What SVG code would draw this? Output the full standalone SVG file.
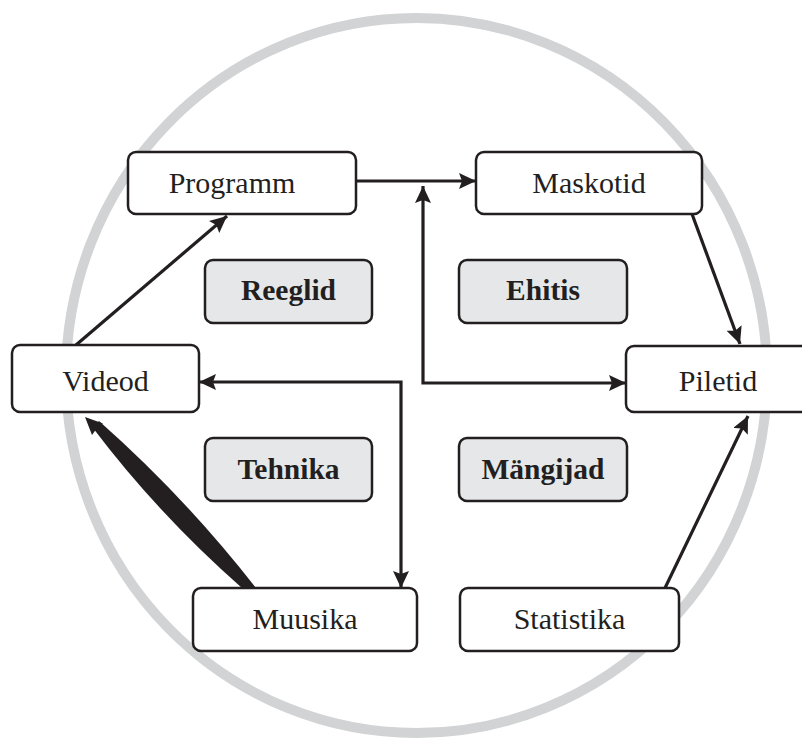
<svg xmlns="http://www.w3.org/2000/svg" width="802" height="742" viewBox="0 0 802 742">
<defs>
<marker id="ah" markerUnits="userSpaceOnUse" markerWidth="20" markerHeight="18" refX="17" refY="8" orient="auto-start-reverse" viewBox="0 0 20 18">
<path d="M0,0 L17,8 L0,16 L3,8 z" fill="#231f20"/>
</marker>
<style>
.box{fill:#ffffff;stroke:#231f20;stroke-width:2.5}
.gbox{fill:#e6e7e8;stroke:#231f20;stroke-width:2.5}
.t{font-family:"Liberation Serif","Times New Roman",serif;font-size:30px;fill:#231f20;text-anchor:middle}
.b{font-weight:bold;font-size:29.5px}
.c{fill:none;stroke:#231f20;stroke-width:3.2}
</style>
</defs>
<rect width="802" height="742" fill="#ffffff"/>
<ellipse cx="416.5" cy="375.5" rx="350.5" ry="357.5" fill="none" stroke="#d1d3d4" stroke-width="10"/>

<g id="connectors">
<line class="c" x1="356" y1="181" x2="476" y2="181" marker-end="url(#ah)"/>
<path class="c" d="M423,186 L423,383 L626,383" marker-start="url(#ah)" marker-end="url(#ah)"/>
<path class="c" d="M199,382 L401,382 L401,588" marker-start="url(#ah)" marker-end="url(#ah)"/>
<line class="c" x1="76" y1="345" x2="227" y2="216" marker-end="url(#ah)"/>
<line class="c" x1="692" y1="214" x2="740" y2="344" marker-end="url(#ah)"/>
<line class="c" x1="665" y1="588" x2="748" y2="416" marker-end="url(#ah)"/>
<path d="M242,588 Q158,514 93,428 L99,421 Q185,497 256,588 Z" fill="#231f20"/>
<path d="M85,417 L103,423.5 L97,428 L92,435 Z" fill="#231f20"/>
</g>

<g id="programm"><rect class="box" x="128" y="152" width="228" height="62" rx="8"/><text class="t" x="232" y="193">Programm</text></g>
<g id="maskotid"><rect class="box" x="476" y="152" width="226" height="62" rx="8"/><text class="t" x="589" y="193">Maskotid</text></g>
<g id="videod"><rect class="box" x="12" y="345" width="187" height="67" rx="8"/><text class="t" x="105.5" y="391">Videod</text></g>
<g id="piletid"><rect class="box" x="626" y="346" width="186" height="66" rx="8"/><text class="t" x="718" y="391">Piletid</text></g>
<g id="muusika"><rect class="box" x="193" y="588" width="224" height="63" rx="8"/><text class="t" x="305" y="629">Muusika</text></g>
<g id="statistika"><rect class="box" x="460" y="588" width="219" height="63" rx="8"/><text class="t" x="569.5" y="629">Statistika</text></g>

<g id="reeglid"><rect class="gbox" x="205" y="260" width="167" height="63" rx="8"/><text class="t b" x="288.5" y="300">Reeglid</text></g>
<g id="ehitis"><rect class="gbox" x="459" y="260" width="168" height="63" rx="8"/><text class="t b" x="543" y="300">Ehitis</text></g>
<g id="tehnika"><rect class="gbox" x="205" y="438" width="167" height="63" rx="8"/><text class="t b" x="288.5" y="479">Tehnika</text></g>
<g id="mangijad"><rect class="gbox" x="459" y="438" width="168" height="63" rx="8"/><text class="t b" x="543" y="479">Mängijad</text></g>
</svg>
